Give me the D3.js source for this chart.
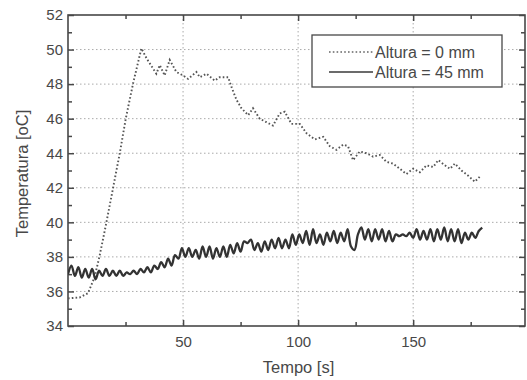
<!DOCTYPE html>
<html><head><meta charset="utf-8">
<script src="https://cdn.jsdelivr.net/npm/d3@7"></script>
<style>
html,body{margin:0;padding:0;background:#fff;}
svg{display:block;font-family:"Liberation Sans",Arial,sans-serif;}
</style></head>
<body>
<svg id="chart" width="527" height="380"></svg>
<script>
// ---- data ----
const seriesNames = ["Altura = 0 mm", "Altura = 45 mm"];
const xTicks = [50, 100, 150];
const yTicks = [34, 36, 38, 40, 42, 44, 46, 48, 50, 52];

const t0 = [0, 5, 8.7, 11.6, 13.8, 16.7, 22.5, 25.1, 28.3, 31.9, 34.1, 38.4, 39.9, 42, 44.2, 47.1, 50, 52.2, 55.8, 57.3, 60.2, 63.8, 65.9, 69.6, 71, 73.2, 75.4, 78.3, 80.4, 83.3, 86.2, 89.1, 92, 94.2, 97.1, 100.7, 103.7, 107.3, 110.9, 113.8, 116.7, 119.6, 121.7, 123.9, 126.8, 129.7, 132.6, 135.5, 138.4, 141.3, 144.2, 147.1, 150, 152.9, 155.8, 158.7, 160.9, 163.8, 166, 168.1, 171, 173.9, 176.8, 179];
const temp0 = [35.6, 35.65, 35.9, 36.85, 38.1, 40.0, 44.0, 46.0, 48.05, 50.07, 49.5, 48.6, 49.1, 48.5, 49.4, 48.7, 48.5, 48.3, 48.7, 48.4, 48.6, 48.2, 48.4, 48.4, 47.85, 47.1, 46.6, 46.2, 46.6, 46.0, 45.8, 45.6, 46.3, 46.4, 45.7, 45.7, 45.15, 44.8, 44.95, 44.4, 44.2, 44.5, 44.4, 43.6, 44.1, 44.0, 43.8, 43.9, 43.5, 43.4, 43.1, 42.8, 43.1, 42.9, 43.3, 43.2, 43.6, 43.3, 43.1, 43.4, 43.0, 42.7, 42.35, 42.65];

const t45 = [0, 1.5, 3, 4.5, 6, 7.5, 9, 10.5, 12, 13.5, 15, 16.5, 18, 19.5, 21, 22.5, 24, 25.5, 27, 28.5, 30, 31.5, 33, 34.5, 36, 37.5, 39, 40.5, 42, 43.5, 45, 46.5, 48, 49.5, 51, 52.5, 54, 55.5, 57, 58.5, 60, 61.5, 63, 64.5, 66, 67.5, 69, 70.5, 72, 73.5, 75, 76.5, 78, 79.5, 81, 82.5, 84, 85.5, 87, 88.5, 90, 91.5, 93, 94.5, 96, 97.5, 99, 100.5, 102, 103.5, 105, 106.5, 108, 109.5, 111, 112.5, 114, 115.5, 117, 118.5, 120, 121.5, 123, 124.5, 126, 127.5, 129, 130.5, 132, 133.5, 135, 136.5, 138, 139.5, 141, 142.5, 144, 145.5, 147, 148.5, 150, 151.5, 153, 154.5, 156, 157.5, 159, 160.5, 162, 163.5, 165, 166.5, 168, 169.5, 171, 172.5, 174, 175.5, 177, 178.5, 180];
const temp45 = [37.0, 37.5, 36.9, 37.4, 36.8, 37.3, 36.8, 37.3, 36.7, 37.2, 36.9, 37.3, 36.9, 37.2, 36.9, 37.2, 36.9, 37.1, 37.0, 37.2, 37.0, 37.3, 37.1, 37.4, 37.1, 37.5, 37.3, 37.7, 37.4, 37.9, 37.5, 38.1, 37.9, 38.5, 38.0, 38.5, 38.0, 38.4, 37.9, 38.6, 38.0, 38.6, 37.9, 38.5, 38.0, 38.6, 38.0, 38.7, 38.2, 38.8, 38.3, 38.9, 38.8, 39.0, 38.4, 38.8, 38.3, 38.9, 38.4, 39.0, 38.5, 39.1, 38.5, 39.0, 38.5, 39.3, 38.7, 39.3, 38.8, 39.5, 38.7, 39.6, 38.8, 39.3, 38.7, 39.4, 38.9, 39.5, 38.8, 39.4, 38.9, 39.6, 38.6, 38.4, 39.3, 39.7, 39.0, 39.6, 38.9, 39.6, 39.0, 39.6, 38.9, 39.5, 38.9, 39.3, 39.2, 39.3, 39.2, 39.4, 39.1, 39.6, 39.0, 39.5, 39.0, 39.6, 38.9, 39.6, 39.0, 39.7, 38.9, 39.6, 38.9, 39.6, 38.8, 39.4, 39.0, 39.4, 39.1, 39.5, 39.7];

// ---- layout ----
const svg = d3.select("#chart");
const L = 68, R = 525, T = 15, B = 326;
const x = d3.scaleLinear().domain([0, 198.6]).range([L, R]);
const y = d3.scaleLinear().domain([34, 52]).range([B, T]);
const ink = "#484848";
const FONT = "'Liberation Sans',Arial,sans-serif";

// grid
const g = svg.append("g");
g.selectAll("line.gy").data(yTicks.filter(v => v > 34 && v < 52)).join("line")
  .attr("x1", L).attr("x2", R).attr("y1", d => y(d)).attr("y2", d => y(d))
  .attr("stroke", "#aaa").attr("stroke-width", 1).attr("stroke-dasharray", "1.5,2.5");
g.selectAll("line.gx").data(xTicks).join("line")
  .attr("y1", T).attr("y2", B).attr("x1", d => x(d)).attr("x2", d => x(d))
  .attr("stroke", "#aaa").attr("stroke-width", 1).attr("stroke-dasharray", "1.5,2.5");

// axes with inward ticks
const minorY = d3.range(35, 52, 2);
const minorX = [25, 75, 125, 175];
function addAxis(axisGen, transform, major, minor, majorLen, minorLen, labels, pad) {
  const a = svg.append("g").attr("transform", transform);
  a.call(axisGen.tickValues(major).tickSizeInner(-majorLen).tickSizeOuter(0).tickPadding(labels ? pad : 0)
    .tickFormat(labels ? d3.format("d") : () => ""));
  a.select(".domain").remove();
  a.selectAll(".tick line").attr("stroke", ink).attr("stroke-width", 1.5);
  a.selectAll(".tick text").attr("fill", ink).style("font-size", "15px").style("font-family", FONT);
  const b = svg.append("g").attr("transform", transform);
  b.call(axisGen.tickValues(minor).tickSizeInner(-minorLen).tickSizeOuter(0).tickFormat(() => ""));
  b.select(".domain").remove();
  b.selectAll(".tick line").attr("stroke", ink).attr("stroke-width", 1.5);
  return a;
}
addAxis(d3.axisLeft(y), `translate(${L},0)`, yTicks, minorY, 6, 4, true, 5);
addAxis(d3.axisRight(y), `translate(${R},0)`, yTicks, minorY, 6, 4, false, 0);
addAxis(d3.axisBottom(x), `translate(0,${B})`, xTicks, minorX, 6, 4, true, 10);
addAxis(d3.axisTop(x), `translate(0,${T})`, xTicks, minorX, 6, 4, false, 0);

// frame
svg.append("rect").attr("x", L).attr("y", T).attr("width", R - L).attr("height", B - T)
  .attr("fill", "none").attr("stroke", ink).attr("stroke-width", 1.6);

// clip
svg.append("clipPath").attr("id", "clip").append("rect")
  .attr("x", L).attr("y", T).attr("width", R - L).attr("height", B - T);

const d0 = t0.map((t, i) => [t, temp0[i]]);
const d45 = t45.map((t, i) => [t, temp45[i]]);
const line0 = d3.line().x(d => x(d[0])).y(d => y(d[1]));
const line45 = d3.line().x(d => x(d[0])).y(d => y(d[1])).curve(d3.curveCatmullRom.alpha(0.5));

svg.append("path").attr("clip-path", "url(#clip)").attr("d", line0(d0))
  .attr("fill", "none").attr("stroke", "#555").attr("stroke-width", 1.9)
  .attr("stroke-dasharray", "1.6,2.2");
svg.append("path").attr("clip-path", "url(#clip)").attr("d", line45(d45))
  .attr("fill", "none").attr("stroke", "#333").attr("stroke-width", 2.3)
  .attr("stroke-linejoin", "round");

// legend
const lg = svg.append("g");
lg.append("rect").attr("x", 312).attr("y", 35).attr("width", 190).attr("height", 52)
  .attr("fill", "#fff").attr("stroke", ink).attr("stroke-width", 1.3);
const rows = [
  {name: seriesNames[0], dash: "1.6,2.2", w: 1.6, col: "#666"},
  {name: seriesNames[1], dash: null, w: 1.6, col: "#3a3a3a"}
];
rows.forEach((r, i) => {
  const yy = 52 + i * 20;
  lg.append("line").attr("x1", 329).attr("x2", 373).attr("y1", yy).attr("y2", yy)
    .attr("stroke", r.col).attr("stroke-width", r.w).attr("stroke-dasharray", r.dash);
  lg.append("text").attr("x", 375).attr("y", yy).attr("dy", "0.35em")
    .attr("fill", ink).style("font-size", "16px").text(r.name);
});

// titles
svg.append("text").attr("x", (L + R) / 2 + 2).attr("y", 373).attr("text-anchor", "middle")
  .attr("fill", ink).style("font-size", "16.5px").text("Tempo [s]");
svg.append("text").attr("transform", `translate(28,${(T + B) / 2 + 3}) rotate(-90)`)
  .attr("text-anchor", "middle").attr("fill", ink).style("font-size", "16.5px")
  .text("Temperatura [oC]");
</script>
</body></html>
